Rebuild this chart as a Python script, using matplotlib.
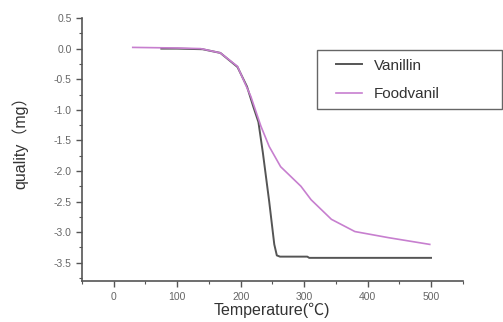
import numpy as np
import matplotlib.pyplot as plt
from matplotlib.ticker import MultipleLocator
from matplotlib.lines import Line2D
from matplotlib.legend_handler import HandlerLine2D

plt.rcParams['font.family'] = ['Liberation Sans', 'Noto Sans CJK SC', 'DejaVu Sans']

# Vanillin TG curve
van_t = [75, 100, 140, 168, 195, 210, 220, 228, 235, 245, 253, 257, 262, 305, 308, 500]
van_m = [0.0, 0.0, -0.01, -0.07, -0.30, -0.62, -0.95, -1.2, -1.7, -2.5, -3.2, -3.38, -3.40, -3.40, -3.42, -3.42]

# Foodvanil TG curve
food_t = [30, 100, 137, 168, 195, 216, 232, 245, 263, 280, 295, 311, 343, 380, 433, 498]
food_m = [0.02, 0.01, 0.0, -0.07, -0.29, -0.78, -1.27, -1.6, -1.93, -2.1, -2.25, -2.47, -2.79, -2.99, -3.09, -3.20]

fig = plt.figure(figsize=(5.03, 3.22), dpi=100)
ax = fig.add_axes([0.163, 0.127, 0.757, 0.817])

ax.plot(van_t, van_m, color='#555555', lw=1.4, label='Vanillin')
ax.plot(food_t, food_m, color='#c77fcf', lw=1.2, label='Foodvanil')

ax.set_xlim(-50, 550)
ax.set_ylim(-3.8, 0.5)
ax.xaxis.set_major_locator(MultipleLocator(100))
ax.xaxis.set_minor_locator(MultipleLocator(50))
ax.yaxis.set_major_locator(MultipleLocator(0.5))
ax.yaxis.set_minor_locator(MultipleLocator(0.25))
ax.yaxis.set_major_formatter(plt.FormatStrFormatter('%.1f'))

for s in ['top', 'right']:
    ax.spines[s].set_visible(False)
for s in ['left', 'bottom']:
    ax.spines[s].set_color('#555555')
    ax.spines[s].set_linewidth(1.2)

ax.tick_params(which='major', direction='out', length=4, width=1, colors='#555555',
               labelsize=7.5, labelcolor='#666666')
ax.tick_params(which='minor', direction='out', length=2, width=0.8, colors='#555555')

ax.set_xlabel('Temperature(℃)', fontsize=11.5, color='#333333', labelpad=1)
ax.set_ylabel('quality（mg）', fontsize=11.5, color='#333333')
ax.yaxis.set_label_coords(-0.14, 0.54)

leg = ax.legend(loc='upper left', bbox_to_anchor=(0.617, 0.878, 0.486, 0.0), mode='expand',
                fontsize=11, fancybox=False, edgecolor='#666666', framealpha=1,
                handlelength=2.4, handletextpad=0.75, labelspacing=0.95,
                borderpad=0.55, borderaxespad=0,
                handler_map={Line2D: HandlerLine2D(xpad=0.7)})
leg.get_frame().set_linewidth(1.0)
for t in leg.get_texts():
    t.set_color('#333333')

fig.savefig('out.png', dpi=100)
